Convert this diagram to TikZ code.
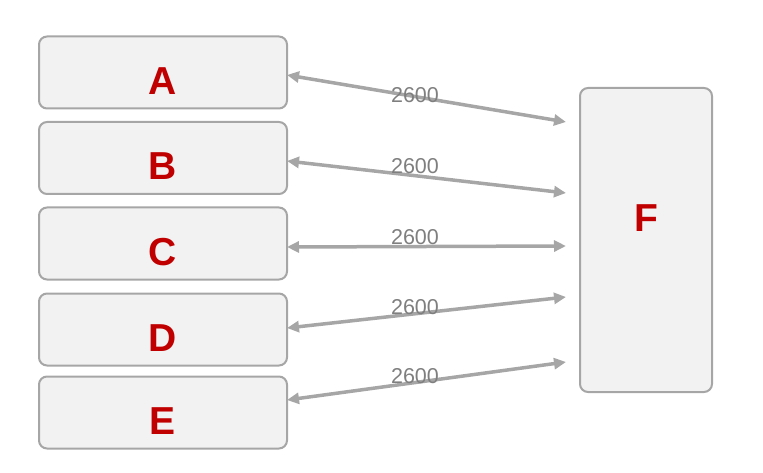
\documentclass[tikz,border=0pt]{standalone}
\usepackage{fontspec}
\setmainfont{Liberation Sans}
\usetikzlibrary{arrows.meta}
\definecolor{vien}{HTML}{A6A6A6}
\definecolor{nen}{HTML}{F2F2F2}
\definecolor{chu}{HTML}{C00000}
\definecolor{nhan}{HTML}{7F7F7F}
\begin{document}
\begin{tikzpicture}[x=1pt,y=-1pt,line cap=butt,line join=miter,>={Triangle[length=12pt,width=11pt]}]
		\tikzset{hop/.style={draw=vien,line width=2pt,fill=nen,rounded corners=8pt,inner sep=0pt,
				text=chu,font=\fontsize{39}{39}\selectfont\bfseries},
			hopnho/.style={hop,minimum width=248pt,minimum height=72pt,text height=44pt,text depth=0pt},
			canh/.style={<->,draw=vien,line width=3.5pt},
			so/.style={text=nhan,font=\fontsize{21.5}{22}\selectfont}}
		\useasboundingbox (0,0) rectangle (763,473);
		%--------- Các hộp
		\foreach \ten/\y in {A/72.5,B/158,C/243.5,D/329.5,E/412.5}
			\node[hopnho] (\ten) at (163,\y) {\ten};
		\node[hop,minimum width=132pt,minimum height=304pt,text height=0pt,text depth=16pt] (F) at (646,240) {F};
		%--------- Các cạnh
		\foreach \ten/\dt/\dp in {A/2.5/-118,B/3/-47,C/3.5/6,D/-1.5/57,E/-12.5/122}
			\draw[canh] ([shift={(-1,\dt)}]\ten.east) -- ([shift={(-13,\dp)}]F.west);
		\foreach \i/\y in {1/95,2/166,3/237,4/307.5,5/376}
			\node[so] (so\i) at (415,\y) {2600};
	\end{tikzpicture}
\end{document}
